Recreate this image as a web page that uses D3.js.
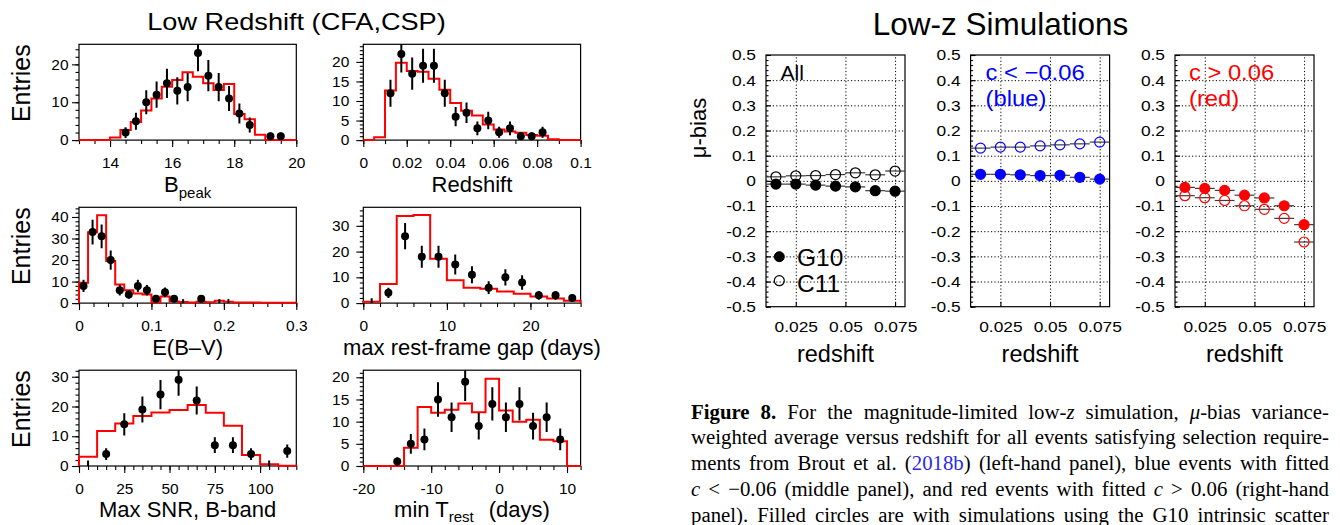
<!DOCTYPE html>
<html>
<head>
<meta charset="utf-8">
<script src="https://cdn.jsdelivr.net/npm/d3@7"></script>
<style>
  html, body { margin: 0; padding: 0; background: #fff; }
  svg { display: block; }
  text { font-family: "Liberation Sans", Arial, Helvetica, sans-serif; fill: #000; }
  .cap text { font-family: "Liberation Serif", "Times New Roman", serif; }
</style>
</head>
<body>
<svg id="fig" width="1340" height="525"></svg>
<script>
// ---------- Low-redshift sample (CFA, CSP): data counts and simulated histograms ----------
// B_peak: bins of 1/3 mag from 13 to 20
const bpeakStart = 13, bpeakWidth = 1 / 3;
const bpeakSim  = [0, 0, 0, 0.7, 2.7, 4.8, 7.8, 11.0, 14.1, 15.9, 17.9, 16.7, 15.0, 13.2, 14.8, 6.9, 5.5, 1.4, 0, 0, 0];
const bpeakData = [null, null, null, null, 2, 5, 10, 12, 15, 13, 14, 23, 17, 14, 11, 7, 4, null, 1, 1, null];
const bpeakXRange = [13, 20], bpeakYRange = [0, 25.3];
const bpeakXTicks = [14, 16, 18, 20], bpeakYTicks = [0, 10, 20];

// Redshift: bins of 0.005 from 0 to 0.1
const zStart = 0, zWidth = 0.005;
const zSim  = [0, 0.7, 12.7, 19.8, 17.7, 17.5, 15.7, 12.9, 9.5, 7.5, 6.3, 4.0, 2.7, 2.2, 1.9, 1.3, 1.1, 0.2, 0, 0];
const zData = [null, null, 12, 22, 17, 19, 19, 12, 6, 7, 3, 5, 2, 3, 1, 1, 2, null, null, null];
const zXRange = [0, 0.1], zYRange = [0, 24.5];
const zXTicks = [0, 0.02, 0.04, 0.06, 0.08, 0.1], zYTicks = [0, 5, 10, 15, 20];

// E(B-V): bins of 0.0125 from 0 to 0.3
const ebvStart = 0, ebvWidth = 0.0125;
const ebvSim  = [9.5, 32.9, 40.8, 19.6, 8.6, 6.0, 4.5, 4.0, 0.3, 3.1, 0.8, 0.5, 0.3, 0.6, 0.4, 1.1, 0.6, 0.3, 0.3, 0.3, 0.2, 0.2, 0.2, 0.2];
const ebvData = [8, 33, 31, 20, 6, 4, 8, 6, 2, 5, 2, 0, null, 2, null, 0, 0, null, null, null, null, null, null, null];
const ebvXRange = [0, 0.3], ebvYRange = [0, 44.5];
const ebvXTicks = [0, 0.1, 0.2, 0.3], ebvYTicks = [0, 10, 20, 30, 40];

// Max rest-frame gap: bins of 2 days from 0 to 26
const gapStart = 0, gapWidth = 2;
const gapSim  = [0.5, 7.4, 33.8, 34.2, 17.2, 8.9, 6.0, 5.6, 4.5, 3.6, 2.6, 1.8, 0.9];
const gapData = [0, 4, 26, 18, 18, 15, 11, 6, 10, 8, 3, 3, 2];
const gapXRange = [0, 26], gapYRange = [0, 37.2];
const gapXTicks = [0, 10, 20], gapYTicks = [0, 10, 20, 30];

// Max SNR in B band: bins of 10 from 0 to 120
const snrStart = 0, snrWidth = 10;
const snrSim  = [3.1, 11.8, 14.3, 16.8, 18.0, 18.8, 20.5, 17.9, 13.5, 3.7, 0.6, 0.1];
const snrData = [0, 4, 14, 19, 24, 29, 22, 7, 7, 4, 0, 5];
const snrXRange = [0, 120], snrYRange = [0, 32.2];
const snrXTicks = [0, 25, 50, 75, 100], snrYTicks = [0, 10, 20, 30];

// min T_rest: bins of 2 days from -20 to 12
const trestStart = -20, trestWidth = 2;
const trestSim  = [0, 0, 0, 4.1, 13.3, 12.0, 12.7, 14.1, 12.1, 19.7, 12.5, 10.0, 10.4, 5.9, 5.6, 0];
const trestData = [null, null, 1, 5, 6, 15, 11, 19, 9, 14, 11, 14, 9, 11, 6, null];
const trestXRange = [-20, 12], trestYRange = [0, 21.6];
const trestXTicks = [-20, -10, 0, 10], trestYTicks = [0, 5, 10, 15, 20];

// ---------- Low-z simulations: mu-bias vs redshift ----------
const simZ = [0.015, 0.025, 0.035, 0.045, 0.055, 0.065, 0.075];
const simZHalfBin = 0.005;
const allG10  = [-0.013, -0.013, -0.017, -0.021, -0.024, -0.039, -0.041];
const allC11  = [0.016, 0.020, 0.021, 0.025, 0.032, 0.024, 0.039];
const blueG10 = [0.026, 0.026, 0.024, 0.021, 0.022, 0.014, 0.007];
const blueC11 = [0.130, 0.134, 0.134, 0.139, 0.143, 0.147, 0.154];
const redG10  = [-0.026, -0.030, -0.038, -0.057, -0.068, -0.099, -0.174];
const redC11  = [-0.059, -0.067, -0.078, -0.099, -0.113, -0.149, -0.243];
const biasXRange = [0.01, 0.08], biasYRange = [-0.5, 0.5];
const biasXTicks = [0.025, 0.05, 0.075];
const biasYTicks = [0.5, 0.4, 0.3, 0.2, 0.1, 0, -0.1, -0.2, -0.3, -0.4, -0.5];

// ---------- drawing ----------
const svg = d3.select("#fig");
svg.append("rect").attr("width", 1340).attr("height", 525).attr("fill", "#fff");
const defs = svg.append("defs");
const fmt = d => String(d);

function styleAxis(g, size) {
  g.attr("font-size", size).attr("font-family", null);
  g.select(".domain").remove();
  g.selectAll("line").attr("stroke", "#000").attr("stroke-width", 1.1);
  g.selectAll("text").attr("fill", "#000");
}
function stretchText(g, sx) {
  g.selectAll("text").each(function () {
    const t = d3.select(this);
    const x = +t.attr("x") || 0;
    t.attr("x", x / sx).attr("transform", `scale(${sx},1)`);
  });
}

// Histogram panel: red simulated step histogram with data points and Poisson error bars
let clipId = 0;
function histPanel(o) {
  const g = svg.append("g").attr("transform", `translate(${o.x0},${o.y0})`);
  const x = d3.scaleLinear().domain(o.xRange).range([0, o.w]);
  const y = d3.scaleLinear().domain(o.yRange).range([o.h, 0]);

  // minor + major ticks
  const yMinor = d3.range(o.yRange[0], o.yRange[1] + 1e-9, o.yMinor);
  const xMinor = d3.range(o.xRange[0], o.xRange[1] + 1e-9, o.xMinor);
  styleAxis(g.append("g").call(d3.axisLeft(y).tickValues(yMinor).tickSize(3.5).tickFormat("")), 14);
  const ya = g.append("g").call(d3.axisLeft(y).tickValues(o.yTicks).tickSize(7).tickPadding(o.yPad).tickFormat(fmt));
  styleAxis(ya, 14.5);
  const xb = g.append("g").attr("transform", `translate(0,${o.h})`);
  styleAxis(xb.append("g").call(d3.axisBottom(x).tickValues(xMinor).tickSize(4).tickFormat("")), 14);
  const xa = xb.append("g").call(d3.axisBottom(x).tickValues(o.xTicks).tickSize(7).tickPadding(11).tickFormat(fmt));
  styleAxis(xa, 14.5);
  stretchText(ya, 1.07); stretchText(xa, 1.07);

  g.append("rect").attr("width", o.w).attr("height", o.h)
    .attr("fill", "none").attr("stroke", "#000").attr("stroke-width", 1.2);

  // simulated histogram
  const pts = [[o.start, 0]];
  o.sim.forEach((v, i) => {
    const a = o.start + i * o.width;
    pts.push([a, v], [a + o.width, v]);
  });
  pts.push([o.start + o.sim.length * o.width, 0]);
  g.append("path")
    .attr("d", d3.line().x(d => x(d[0])).y(d => y(d[1]))(pts))
    .attr("fill", "none").attr("stroke", "#ff0000").attr("stroke-width", 2)
    .attr("stroke-linejoin", "miter");

  // data points
  const id = "clip" + (clipId++);
  defs.append("clipPath").attr("id", id).append("rect")
    .attr("x", -5).attr("y", 0).attr("width", o.w + 10).attr("height", o.h + 5);
  const dg = g.append("g").attr("clip-path", `url(#${id})`);
  const pts2 = o.data.map((v, i) => ({ c: o.start + (i + 0.5) * o.width, v })).filter(d => d.v !== null);
  dg.selectAll("line.err").data(pts2).join("line")
    .attr("x1", d => x(d.c)).attr("x2", d => x(d.c))
    .attr("y1", d => y(Math.max(0, d.v - Math.sqrt(d.v))))
    .attr("y2", d => y(d.v + (d.v > 0 ? Math.sqrt(d.v) : 1.84)))
    .attr("stroke", "#000").attr("stroke-width", 2);
  dg.selectAll("circle").data(pts2.filter(d => d.v > 0)).join("circle")
    .attr("cx", d => x(d.c)).attr("cy", d => y(d.v)).attr("r", 4).attr("fill", "#000");

  // y title
  if (o.yTitle) {
    g.append("text").attr("transform", `translate(${29.5 - o.x0},${o.h / 2 - 9}) rotate(-90)`)
      .attr("text-anchor", "middle").attr("font-size", 25).text("Entries");
  }

  // x title
  const t = g.append("text").attr("x", o.w / 2).attr("y", o.h + 51.5)
    .attr("text-anchor", "middle").attr("font-size", 22);
  o.xTitle(t);
}

const LX = [79, 363.3], LW = 217.3, LY = [44.3, 207.3, 370.2], LH = 95.8;

histPanel({ x0: LX[0], y0: LY[0], w: LW, h: LH, start: bpeakStart, width: bpeakWidth,
  sim: bpeakSim, data: bpeakData, xRange: bpeakXRange, yRange: bpeakYRange,
  xTicks: bpeakXTicks, yTicks: bpeakYTicks, xMinor: 0.5, yMinor: 2, yPad: 3.5, yTitle: true,
  xTitle: t => { t.append("tspan").text("B"); t.append("tspan").attr("font-size", 15).attr("dy", 6).text("peak"); } });

histPanel({ x0: LX[1], y0: LY[0], w: LW, h: LH, start: zStart, width: zWidth,
  sim: zSim, data: zData, xRange: zXRange, yRange: zYRange,
  xTicks: zXTicks, yTicks: zYTicks, xMinor: 0.01, yMinor: 1, yPad: 7, yTitle: false,
  xTitle: t => t.text("Redshift") });

histPanel({ x0: LX[0], y0: LY[1], w: LW, h: LH, start: ebvStart, width: ebvWidth,
  sim: ebvSim, data: ebvData, xRange: ebvXRange, yRange: ebvYRange,
  xTicks: ebvXTicks, yTicks: ebvYTicks, xMinor: 0.02, yMinor: 2, yPad: 3.5, yTitle: true,
  xTitle: t => t.text("E(B\u2013V)") });

histPanel({ x0: LX[1], y0: LY[1], w: LW, h: LH, start: gapStart, width: gapWidth,
  sim: gapSim, data: gapData, xRange: gapXRange, yRange: gapYRange,
  xTicks: gapXTicks, yTicks: gapYTicks, xMinor: 2, yMinor: 2, yPad: 7, yTitle: false,
  xTitle: t => t.text("max rest-frame gap (days)") });

histPanel({ x0: LX[0], y0: LY[2], w: LW, h: LH, start: snrStart, width: snrWidth,
  sim: snrSim, data: snrData, xRange: snrXRange, yRange: snrYRange,
  xTicks: snrXTicks, yTicks: snrYTicks, xMinor: 5, yMinor: 2, yPad: 3.5, yTitle: true,
  xTitle: t => t.text("Max SNR, B-band") });

histPanel({ x0: LX[1], y0: LY[2], w: LW, h: LH, start: trestStart, width: trestWidth,
  sim: trestSim, data: trestData, xRange: trestXRange, yRange: trestYRange,
  xTicks: trestXTicks, yTicks: trestYTicks, xMinor: 2, yMinor: 1, yPad: 7, yTitle: false,
  xTitle: t => {
    t.append("tspan").text("min T");
    t.append("tspan").attr("font-size", 15).attr("dy", 5).text("rest");
    t.append("tspan").attr("dy", -5).attr("dx", 15).text("(days)");
  } });

svg.append("text").attr("transform", "translate(296.5,30) scale(1.18,1)")
  .attr("text-anchor", "middle").attr("font-size", 23).text("Low Redshift (CFA,CSP)");

// ---------- mu-bias panels ----------
const RX = [766, 970.6, 1175], RW = 139, RY = 55, RH = 251.7;

function biasPanel(o) {
  const g = svg.append("g").attr("transform", `translate(${o.x0},${RY})`);
  const x = d3.scaleLinear().domain(biasXRange).range([0, RW]);
  const y = d3.scaleLinear().domain(biasYRange).range([RH, 0]);

  // dotted grid
  const gy = g.append("g").call(d3.axisLeft(y).tickValues(biasYTicks.slice(1, -1)).tickSize(-RW).tickFormat(""));
  const gx = g.append("g").attr("transform", `translate(0,${RH})`)
    .call(d3.axisBottom(x).tickValues(biasXTicks).tickSize(-RH).tickFormat(""));
  [gy, gx].forEach(a => {
    a.select(".domain").remove();
    a.selectAll("line").attr("stroke", "#000").attr("stroke-width", 1).attr("stroke-dasharray", "1.2,2.2");
  });

  // inward ticks and labels
  const yMinor = d3.range(-0.5, 0.5001, 0.02);
  styleAxis(g.append("g").call(d3.axisLeft(y).tickValues(yMinor).tickSize(-2.5).tickFormat("")), 14);
  const ya = g.append("g").call(d3.axisLeft(y).tickValues(biasYTicks).tickSize(-5).tickPadding(10).tickFormat(fmt));
  styleAxis(ya, 15.5);
  stretchText(ya, 1.12);
  const xa = g.append("g").attr("transform", `translate(0,${RH})`)
    .call(d3.axisBottom(x).tickValues(biasXTicks).tickSize(-5).tickPadding(14.2).tickFormat(fmt));
  styleAxis(xa, 15.5);
  stretchText(xa, 1.12);

  g.append("rect").attr("width", RW).attr("height", RH)
    .attr("fill", "none").attr("stroke", "#000").attr("stroke-width", 1.2);

  // series: horizontal bin bars, then markers
  o.series.forEach(s => {
    const d = simZ.map((z, i) => ({ z, v: s.values[i] }));
    g.append("g").selectAll("line").data(d).join("line")
      .attr("x1", p => x(p.z - simZHalfBin)).attr("x2", p => x(p.z + simZHalfBin))
      .attr("y1", p => y(p.v)).attr("y2", p => y(p.v))
      .attr("stroke", "#3a3a3a").attr("stroke-width", 1.2);
  });
  o.series.forEach(s => {
    const d = simZ.map((z, i) => ({ z, v: s.values[i] }));
    g.append("g").selectAll("circle").data(d).join("circle")
      .attr("cx", p => x(p.z)).attr("cy", p => y(p.v)).attr("r", 5)
      .attr("fill", s.filled ? o.color : "none")
      .attr("stroke", o.color).attr("stroke-width", 1.2);
  });

  // panel label
  o.label.forEach((line, i) => {
    g.append("text").attr("transform", `translate(${o.labelX},${24.5 + i * 26.5}) scale(${o.labelSx},1)`)
      .attr("font-size", o.labelSize).style("fill", o.color).text(line);
  });

  g.append("text").attr("x", RW / 2).attr("y", 306.5).attr("text-anchor", "middle")
    .attr("font-size", 23.5).text("redshift");
  return { g, x, y };
}

const pA = biasPanel({ x0: RX[0], color: "#000", label: ["All"], labelX: 14.5, labelSize: 21, labelSx: 1.0,
  series: [{ values: allG10, filled: true }, { values: allC11, filled: false }] });
biasPanel({ x0: RX[1], color: "#0000ff", label: ["c < \u22120.06", "(blue)"], labelX: 15, labelSize: 22, labelSx: 1.08,
  series: [{ values: blueG10, filled: true }, { values: blueC11, filled: false }] });
biasPanel({ x0: RX[2], color: "#ff0000", label: ["c > 0.06", "(red)"], labelX: 14, labelSize: 22, labelSx: 1.08,
  series: [{ values: redG10, filled: true }, { values: redC11, filled: false }] });

// legend in the first panel
const leg = pA.g.append("g");
leg.append("circle").attr("cx", 13.3).attr("cy", 201.7).attr("r", 5).attr("fill", "#000").attr("stroke", "#000");
leg.append("circle").attr("cx", 13.3).attr("cy", 225.7).attr("r", 5).attr("fill", "none").attr("stroke", "#000").attr("stroke-width", 1.2);
leg.append("text").attr("x", 31).attr("y", 210.5).attr("font-size", 24.5).text("G10");
leg.append("text").attr("x", 31).attr("y", 236.5).attr("font-size", 24.5).text("C11");

svg.append("text").attr("transform", "translate(706,128) rotate(-90)")
  .attr("text-anchor", "middle").attr("font-size", 22).text("\u03bc-bias");

svg.append("text").attr("x", 1000.5).attr("y", 35).attr("text-anchor", "middle")
  .attr("font-size", 31.5).text("Low-z Simulations");

// ---------- caption ----------
const capLines = [
  [["Figure 8.", "b"], [" For the magnitude-limited low-", ""], ["z", "i"], [" simulation, ", ""], ["\u03bc", "i"], ["-bias variance-", ""]],
  [["weighted average versus redshift for all events satisfying selection require-", ""]],
  [["ments from Brout et al. (", ""], ["2018b", "link"], [") (left-hand panel), blue events with fitted", ""]],
  [["c", "i"], [" < \u22120.06 (middle panel), and red events with fitted ", ""], ["c", "i"], [" > 0.06 (right-hand", ""]],
  [["panel). Filled circles are with simulations using the G10 intrinsic scatter", ""]]
];
const capX0 = 691, capX1 = 1329, capBase = [418.5, 444.3, 470.1, 495.9, 521.7];
const cap = svg.append("g").attr("class", "cap");
capLines.forEach((segs, i) => {
  const t = cap.append("text").attr("x", capX0).attr("y", capBase[i])
    .attr("font-size", 20.8).style("white-space", "pre");
  segs.forEach(([s, st]) => {
    const ts = t.append("tspan").text(s);
    if (st === "b") ts.attr("font-weight", "bold");
    if (st === "i") ts.attr("font-style", "italic");
    if (st === "link") ts.style("fill", "#2a2ae8");
  });
  const natural = t.node().getComputedTextLength();
  const spaces = segs.map(s => s[0]).join("").split(" ").length - 1;
  t.attr("word-spacing", ((capX1 - capX0) - natural) / spaces);
});
</script>
</body>
</html>
